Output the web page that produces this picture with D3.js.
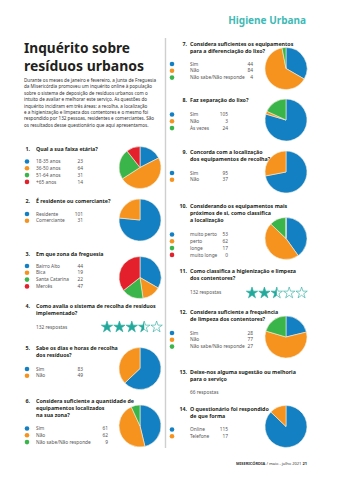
<!DOCTYPE html>
<html>
<head>
<meta charset="utf-8">
<script src="https://cdn.jsdelivr.net/npm/d3@7"></script>
<style>
  body { margin: 0; background: #fff; }
  svg { display: block; font-family: "Noto Sans", sans-serif; }
</style>
</head>
<body>
<svg width="340" height="480"></svg>
<script>
// answers per question
var q1Labels = ["18-35 anos", "36-50 anos", "51-64 anos", "+65 anos"];
var q1Values = [23, 64, 31, 14];
var q2Labels = ["Residente", "Comerciante"];
var q2Values = [101, 31];
var q3Labels = ["Bairro Alto", "Bica", "Santa Catarina", "Mercês"];
var q3Values = [44, 19, 22, 47];
var q4Rating = 3.5;
var q5Labels = ["Sim", "Não"];
var q5Values = [83, 49];
var q6Labels = ["Sim", "Não", "Não sabe/Não responde"];
var q6Values = [61, 62, 9];
var q7Labels = ["Sim", "Não", "Não sabe/Não responde"];
var q7Values = [44, 84, 4];
var q8Labels = ["Sim", "Não", "Às vezes"];
var q8Values = [105, 3, 24];
var q9Labels = ["Sim", "Não"];
var q9Values = [95, 37];
var q10Labels = ["muito perto", "perto", "longe", "muito longe"];
var q10Values = [53, 62, 17, 0];
var q11Rating = 2.5;
var q12Labels = ["Sim", "Não", "Não sabe/Não responde"];
var q12Values = [28, 77, 27];
var q14Labels = ["Online", "Telefone"];
var q14Values = [115, 17];

var colors = ["#1380c4", "#f6921e", "#39b54a", "#e3202b"];
var teal = "#22a99c";

var svg = d3.select("svg");

//header
svg.append("text")
    .attr("x", 306).attr("y", 23.5)
    .attr("text-anchor", "end")
    .attr("font-size", 10).attr("font-weight", 700)
    .attr("fill", "#3fbab6")
    .text("Higiene Urbana");

//column divider
svg.append("line")
    .attr("x1", 165.5).attr("x2", 165.5)
    .attr("y1", 38).attr("y2", 448)
    .attr("stroke", "#cfcfcf").attr("stroke-width", 1.4);

//title
svg.append("text").attr("x", 24).attr("y", 52.5)
    .attr("font-size", 13.5).attr("font-weight", 700).attr("fill", "#231f20")
    .attr("textLength", 106).attr("lengthAdjust", "spacingAndGlyphs")
    .text("Inquérito sobre");
svg.append("text").attr("x", 24).attr("y", 71)
    .attr("font-size", 13.5).attr("font-weight", 700).attr("fill", "#231f20")
    .attr("textLength", 120).attr("lengthAdjust", "spacingAndGlyphs")
    .text("resíduos urbanos");

var intro = [
    "Durante os meses de janeiro e fevereiro, a Junta de Freguesia",
    "da Misericórdia promoveu um inquérito online à população",
    "sobre o sistema de deposição de resíduos urbanos com o",
    "intuito de avaliar e melhorar este serviço. As questões do",
    "inquérito incidiram em três áreas: a recolha, a localização",
    "e a higienização e limpeza dos contentores e o mesmo foi",
    "respondido por 132 pessoas, residentes e comerciantes. São",
    "os resultados desse questionário que aqui apresentamos."
];
svg.append("g").selectAll("text")
    .data(intro)
    .enter()
    .append("text")
    .attr("x", 24)
    .attr("y", (d, i) => 82 + i * 6.4)
    .attr("font-size", 4.6)
    .attr("fill", "#333")
    .text(d => d);

var pie = d3.pie().sort(null).value(d => d);
var arc = d3.arc().innerRadius(0).outerRadius(21);

// one block per question: heading, legend, pie or stars
function heading(num, lines, numX, textX, y) {
    svg.append("text")
        .attr("x", numX).attr("y", y).attr("dy", "0.35em")
        .attr("text-anchor", "end")
        .attr("font-size", 5.3).attr("font-weight", 700).attr("fill", "#231f20")
        .text(num + ".");
    lines.forEach(function (l, i) {
        svg.append("text")
            .attr("x", textX).attr("y", y + i * 6.7).attr("dy", "0.35em")
            .attr("font-size", 5.3).attr("font-weight", 700).attr("fill", "#231f20")
            .text(l);
    });
}

function legend(labels, values, dotX, textX, valX, y) {
    var g = svg.append("g");
    var rows = g.selectAll("g")
        .data(labels)
        .enter()
        .append("g")
        .attr("transform", (d, i) => "translate(0," + (y + i * 6.8) + ")");
    rows.append("circle")
        .attr("cx", dotX).attr("r", 2.3)
        .attr("fill", (d, i) => colors[i]);
    rows.append("text")
        .attr("x", textX).attr("dy", "0.35em")
        .attr("font-size", 4.8).attr("fill", "#555")
        .text(d => d);
    rows.append("text")
        .attr("x", valX).attr("dy", "0.35em")
        .attr("text-anchor", "end")
        .attr("font-size", 4.8).attr("fill", "#555")
        .text((d, i) => values[i]);
}

function drawPie(values, cx, cy) {
    svg.append("g")
        .attr("transform", "translate(" + cx + "," + cy + ")")
        .selectAll("path")
        .data(pie(values))
        .enter()
        .append("path")
        .attr("d", arc)
        .attr("fill", (d, i) => colors[i])
        .attr("stroke", "#f3eedd")
        .attr("stroke-width", 0.6);
}

var starPath = d3.symbol().type(d3.symbolStar).size(40)();
var clipN = 0;
function stars(rating, x0, y) {
    var g = svg.append("g");
    for (var i = 0; i < 5; i++) {
        var cx = x0 + i * 12.4;
        var fill = Math.max(0, Math.min(1, rating - i));
        var s = g.append("g").attr("transform", "translate(" + cx + "," + y + ")");
        if (fill > 0) {
            var id = "half" + (clipN++);
            s.append("clipPath").attr("id", id)
                .append("rect")
                .attr("x", -7).attr("y", -7)
                .attr("width", 14 * fill).attr("height", 14);
            s.append("path").attr("d", starPath)
                .attr("fill", teal)
                .attr("clip-path", "url(#" + id + ")");
        }
        s.append("path").attr("d", starPath)
            .attr("fill", "none")
            .attr("stroke", teal).attr("stroke-width", 0.6);
    }
}

function note(txt, x, y) {
    svg.append("text")
        .attr("x", x).attr("y", y).attr("dy", "0.35em")
        .attr("font-size", 4.8).attr("fill", "#555")
        .text(txt);
}

// left column
heading(1, ["Qual a sua faixa etária?"], 30, 36, 149);
legend(q1Labels, q1Values, 27, 36, 83, 161.5);
drawPie(q1Values, 140, 167.5);

heading(2, ["É residente ou comerciante?"], 30, 36, 201);
legend(q2Labels, q2Values, 27, 36, 83, 214);
drawPie(q2Values, 140, 220);

heading(3, ["Em que zona da freguesia"], 30, 36, 254);
legend(q3Labels, q3Values, 27, 36, 83, 266);
drawPie(q3Values, 140, 277.5);

heading(4, ["Como avalia o sistema de recolha de resíduos", "implementado?"], 30, 36, 306);
note("132 respostas", 36, 327);
stars(q4Rating, 107, 327);

heading(5, ["Sabe os dias e horas de recolha", "dos resíduos?"], 30, 36, 348.5);
legend(q5Labels, q5Values, 27, 36, 83, 369);
drawPie(q5Values, 140, 368.5);

heading(6, ["Considera suficiente a quantidade de", "equipamentos localizados", "na sua zona?"], 30, 36, 401.5);
legend(q6Labels, q6Values, 27, 36, 108, 428.5);
drawPie(q6Values, 140, 426);

// right column
heading(7, ["Considera suficientes os equipamentos", "para a diferenciação do lixo?"], 187, 190, 44);
legend(q7Labels, q7Values, 172, 190, 253, 64);
drawPie(q7Values, 286, 68.5);

heading(8, ["Faz separação do lixo?"], 187, 190, 100.5);
legend(q8Labels, q8Values, 172, 190, 228, 114.5);
drawPie(q8Values, 286, 120);

heading(9, ["Concorda com a localização", "dos equipamentos de recolha?"], 187, 190, 152.5);
legend(q9Labels, q9Values, 172, 190, 228, 173);
drawPie(q9Values, 286, 172);

heading(10, ["Considerando os equipamentos mais", "próximos de si, como classifica", "a localização"], 187, 190, 206.5);
legend(q10Labels, q10Values, 172, 190, 228, 234.5);
drawPie(q10Values, 286, 238.5);

heading(11, ["Como classifica a higienização e limpeza", "dos contentores?"], 187, 190, 271.5);
note("132 respostas", 190, 292.5);
stars(q11Rating, 252, 293);

heading(12, ["Considera suficiente a frequência", "de limpeza dos contentores?"], 187, 190, 312);
legend(q12Labels, q12Values, 172, 190, 253, 333);
drawPie(q12Values, 286, 337);

heading(13, ["Deixe-nos alguma sugestão ou melhoria", "para o serviço"], 187, 190, 372.5);
note("66 respostas", 190, 392.5);

heading(14, ["O questionário foi respondido", "de que forma"], 187, 190, 409);
legend(q14Labels, q14Values, 172, 190, 228, 429.5);
drawPie(q14Values, 286, 426.5);

//footer
var foot = svg.append("text")
    .attr("x", 307).attr("y", 464.5)
    .attr("text-anchor", "end")
    .attr("font-size", 4).attr("fill", "#333");
foot.append("tspan").attr("font-weight", 700).text("MISERICÓRDIA");
foot.append("tspan").text(" / maio - julho 2021   ");
foot.append("tspan").attr("font-weight", 700).text("21");
</script>
</body>
</html>
